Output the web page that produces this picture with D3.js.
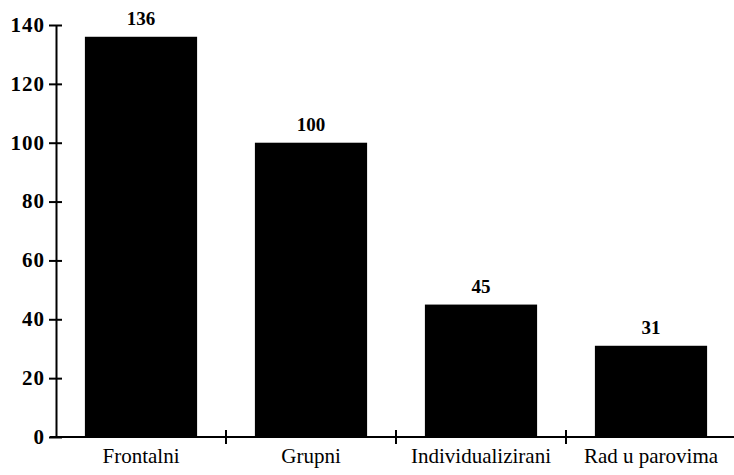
<!DOCTYPE html>
<html>
<head>
<meta charset="utf-8">
<script src="https://cdn.jsdelivr.net/npm/d3@7"></script>
<style>
  body { margin: 0; background: #fff; }
</style>
</head>
<body>
<svg width="734" height="475"></svg>
<script>
// podaci
const categories = ['Frontalni', 'Grupni', 'Individualizirani', 'Rad u parovima'];
const values = [136, 100, 45, 31];
const yTicks = [0, 20, 40, 60, 80, 100, 120, 140];

const font = '"Liberation Serif", "Times New Roman", serif';
const svg = d3.select('svg');

const x = d3.scaleBand().domain(categories).range([56, 736]);
const y = d3.scaleLinear().domain([0, 140]).range([437, 25]);

const barW = x.bandwidth() * 0.66;

// stupci
svg.selectAll('rect.bar')
  .data(values)
  .join('rect')
  .attr('class', 'bar')
  .attr('x', (d, i) => x(categories[i]) + (x.bandwidth() - barW) / 2)
  .attr('y', d => y(d))
  .attr('width', barW)
  .attr('height', d => y(0) - y(d))
  .attr('fill', '#000');

// vrijednosti iznad stupaca
svg.selectAll('text.val')
  .data(values)
  .join('text')
  .attr('class', 'val')
  .attr('x', (d, i) => x(categories[i]) + x.bandwidth() / 2)
  .attr('y', d => y(d) - 12)
  .attr('text-anchor', 'middle')
  .style('font-family', font)
  .style('font-size', '19px')
  .style('font-weight', 'bold')
  .text(d => d);

// y os
const yAxis = svg.append('g')
  .attr('transform', 'translate(56,0)')
  .call(d3.axisLeft(y).tickValues(yTicks).tickSize(7).tickSizeOuter(0).tickPadding(4));
yAxis.select('.domain').attr('stroke', '#000').attr('stroke-width', 2);
yAxis.selectAll('.tick line').attr('x1', 6).attr('stroke', '#000').attr('stroke-width', 2);
yAxis.selectAll('.tick text')
  .style('font-family', font)
  .style('font-size', '21px')
  .style('font-weight', 'bold')
  .style('letter-spacing', '1px')
  .attr('fill', '#000')
  .attr('dy', '0.3em');

// x os
svg.append('line')
  .attr('x1', 50).attr('x2', 734)
  .attr('y1', y(0)).attr('y2', y(0))
  .attr('stroke', '#000').attr('stroke-width', 2);

svg.selectAll('line.sep')
  .data(categories.slice(1))
  .join('line')
  .attr('class', 'sep')
  .attr('x1', d => x(d)).attr('x2', d => x(d))
  .attr('y1', y(0) - 7).attr('y2', y(0) + 7)
  .attr('stroke', '#000').attr('stroke-width', 2);

const xAxis = svg.append('g')
  .attr('transform', `translate(0,${y(0)})`)
  .call(d3.axisBottom(x).tickSize(0).tickPadding(11));
xAxis.select('.domain').remove();
xAxis.selectAll('.tick text')
  .style('font-family', font)
  .style('font-size', '21px')
  .attr('fill', '#000')
  .attr('dy', '0.71em');
</script>
</body>
</html>
